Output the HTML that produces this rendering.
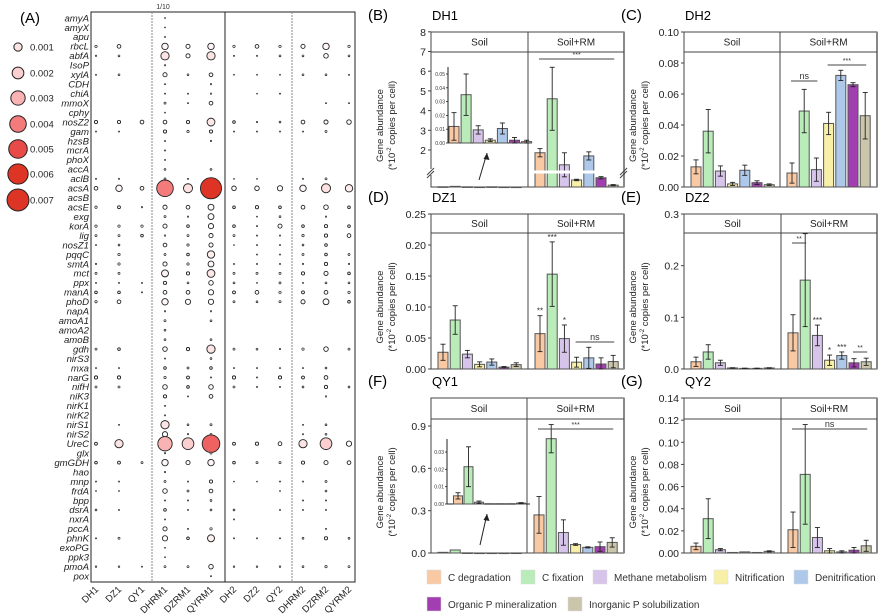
<!DOCTYPE html>
<html><head><meta charset="utf-8">
<style>
html,body{margin:0;padding:0;background:#fff;}
svg{display:block;font-family:"Liberation Sans",Arial,sans-serif;}
</style></head>
<body>
<svg id="fig" width="890" height="616" viewBox="0 0 890 616" xmlns="http://www.w3.org/2000/svg"></svg>
<script>
// ---------- Panel A data ----------
const genes=['amyA','amyX','apu','rbcL','abfA','IsoP','xylA','CDH','chiA','mmoX','cphy','nosZ2','gam','hzsB','mcrA','phoX','accA','aclB','acsA','acsB','acsE','exg','korA','lig','nosZ1','pqqC','smtA','mct','ppx','manA','phoD','napA','amoA1','amoA2','amoB','gdh','nirS3','mxa','narG','nifH','niK3','nirK1','nirK2','nirS1','nirS2','UreC','glx','gmGDH','hao','mnp','frdA','bpp','dsrA','nxrA','pccA','phnK','exoPG','ppk3','pmoA','pox'];
const samples=['DH1','DZ1','QY1','DHRM1','DZRM1','QYRM1','DH2','DZ2','QY2','DHRM2','DZRM2','QYRM2'];
const legendValues=[0.001,0.002,0.003,0.004,0.005,0.006,0.007];
// abundance in units of 1e-3
const abund=[
[0,0,0,.01,0,0,0,0,0,0,0,0],
[0,0,0,.01,0,0,0,0,0,0,0,0],
[0,0,0,.02,0,0,0,0,0,0,0,0],
[.08,.2,0,.6,.25,.6,.08,.2,.08,.25,.6,.08],
[.03,.05,0,1.0,.25,1.0,.02,.02,.05,.05,.3,.05],
[0,0,0,.03,0,0,0,0,0,0,0,0],
[.02,.05,0,.25,.05,.2,.01,.01,.01,.05,.05,.02],
[0,0,0,.02,0,.03,0,0,0,0,0,0],
[0,0,0,.02,.02,.03,0,.01,.02,0,0,0],
[0,0,0,.06,.02,.2,0,0,0,0,.02,.02],
[0,0,0,.01,0,0,0,0,0,0,0,0],
[.15,.15,.2,.2,.15,.9,.1,.03,.05,.2,.25,.3],
[.02,.02,0,.15,.08,.15,.02,.02,.02,.02,.06,0],
[0,0,0,.02,0,.03,0,0,0,0,0,0],
[0,0,0,.02,0,0,0,0,0,0,0,0],
[0,0,0,.02,0,0,0,0,0,0,0,0],
[0,0,0,.05,0,.05,0,0,0,0,0,0],
[.02,.02,0,.05,.02,.03,.01,.01,0,.02,.06,0],
[.2,.6,.2,4,1.2,6.5,.3,.3,.4,.6,1.2,.8],
[0,0,0,0,0,0,0,0,0,0,0,0],
[.08,.12,.03,.25,.2,.5,.1,.15,.1,.2,.3,.1],
[0,0,0,.06,.03,.5,0,.01,.05,0,.03,0],
[.08,.08,.08,.25,.1,.4,.1,.02,.25,.1,.15,.1],
[.06,.06,.1,.03,.06,.25,.06,.02,.02,.08,.15,.2],
[.02,.05,0,.2,.08,.25,.01,.02,.02,.05,.1,0],
[0,.08,0,.06,.1,.8,0,.02,.02,.06,.1,.06],
[.03,.08,0,.25,.08,.5,.02,.02,.02,.03,.15,.03],
[.06,.06,0,.7,.15,.9,.06,.06,.06,.15,.25,.1],
[.02,.02,.02,.15,.05,.3,.05,.01,.06,.02,.05,.05],
[.1,.1,.02,.2,.2,.4,.12,.2,.08,.12,.2,.08],
[.08,.2,0,.6,.4,.4,.06,.05,.06,.25,.5,.1],
[0,0,0,.03,0,.03,0,0,0,0,0,0],
[0,0,0,.06,0,.05,0,0,0,0,0,0],
[0,0,0,.05,0,0,0,0,0,0,0,0],
[0,0,0,.05,0,.05,0,0,0,0,0,0],
[.06,.1,0,.3,.15,1.0,.06,.05,.03,.08,.3,.06],
[0,0,0,.02,0,.05,0,0,0,0,0,0],
[.02,.02,0,.1,.06,.1,.02,.02,.02,.02,.05,0],
[.15,.15,0,.08,.12,.02,.15,.02,.15,.12,.2,0],
[.06,.06,0,.3,.1,.3,.06,.02,.02,.05,.15,.05],
[0,0,0,.15,.02,.2,0,0,0,0,.03,0],
[0,0,0,.02,0,0,0,0,0,0,0,0],
[0,0,0,.02,0,0,0,0,0,0,0,0],
[0,.02,0,1.0,.05,.06,0,0,0,.02,.05,0],
[0,0,0,.4,.03,.05,0,0,0,.02,.05,0],
[.12,1.0,0,3,2,4.5,.12,.15,.2,1.0,2.0,.4],
[0,0,0,.03,0,.06,0,0,0,0,0,0],
[.1,.12,.06,.6,.25,.6,.1,.06,.06,.15,.25,.2],
[0,0,0,.03,0,0,0,0,0,0,0,0],
[.02,.02,0,.06,.02,.15,.01,.01,.02,.02,.06,0],
[.01,.01,0,.3,.06,.2,0,0,.01,0,.05,0],
[0,0,0,.02,.02,.05,0,0,0,.02,.02,0],
[.05,.02,0,.1,.02,.05,.05,0,.02,.02,.02,0],
[0,0,0,.02,0,0,.02,0,0,0,0,0],
[0,0,0,.25,.02,.08,0,0,0,0,.02,0],
[.02,.06,0,.4,.1,.7,.02,.02,.02,.05,.15,.05],
[0,0,0,.01,0,0,0,0,0,0,0,0],
[0,0,0,.005,0,0,0,0,0,0,0,0],
[.04,.04,.02,.06,.06,.3,.04,.04,.04,.05,.08,.06],
[0,0,0,0,0,.02,0,0,0,0,0,0]
];

// ---------- Bar chart data ----------
const categories=['C degradation','C fixation','Methane metabolism','Nitrification','Denitrification','Organic P mineralization','Inorganic P solubilization'];
const catColors=['#f9c9a4','#b9ecb9','#d7c4ea','#f8f0a8','#aec8ea','#a23fb0','#c9c6ab'];
const dh1Soil=[0.012,0.035,0.0095,0.002,0.0105,0.002,0.001];
const dh1SoilErr=[0.01,0.015,0.003,0.001,0.004,0.002,0.001];
const dh1Rm=[1.85,4.6,1.2,0.38,1.68,0.5,0.1];
const dh1RmErr=[0.22,1.6,0.65,0.04,0.22,0.06,0.03];
const dh1Ticks=[2,3,4,5,6,7,8];
const dh1InsetTicks=[0,0.01,0.02,0.03,0.04,0.05];
const dh2Soil=[0.013,0.036,0.0103,0.002,0.0108,0.0028,0.0015];
const dh2SoilErr=[0.0045,0.014,0.0033,0.001,0.0033,0.0012,0.0005];
const dh2Rm=[0.009,0.049,0.0112,0.041,0.072,0.066,0.046];
const dh2RmErr=[0.0065,0.014,0.0075,0.0072,0.0033,0.0013,0.015];
const dh2Ticks=[0,0.02,0.04,0.06,0.08,0.10];
const dz1Soil=[0.027,0.079,0.024,0.0075,0.0112,0.003,0.007];
const dz1SoilErr=[0.013,0.023,0.006,0.004,0.005,0.001,0.003];
const dz1Rm=[0.057,0.153,0.049,0.011,0.018,0.008,0.012];
const dz1RmErr=[0.029,0.052,0.022,0.008,0.017,0.01,0.01];
const dz1Ticks=[0,0.05,0.10,0.15,0.20,0.25];
const dz2Soil=[0.014,0.033,0.012,0.002,0.0012,0.0012,0.002];
const dz2SoilErr=[0.009,0.014,0.005,0.0005,0.0004,0.0004,0.0005];
const dz2Rm=[0.070,0.172,0.065,0.017,0.026,0.012,0.014];
const dz2RmErr=[0.035,0.09,0.02,0.01,0.007,0.008,0.007];
const dz2Ticks=[0,0.1,0.2,0.3];
const qy1Soil=[0.0047,0.0215,0.001,0.0002,0.0002,0.0002,0.0005];
const qy1SoilErr=[0.0018,0.0115,0.0007,0,0,0,0.0003];
const qy1Rm=[0.27,0.81,0.145,0.06,0.04,0.045,0.075];
const qy1RmErr=[0.13,0.1,0.09,0.006,0.004,0.033,0.033];
const qy1Ticks=[0,0.3,0.6,0.9];
const qy1InsetTicks=[0,0.01,0.02,0.03];
const qy2Soil=[0.006,0.031,0.003,0.0005,0.001,0.0005,0.0015];
const qy2SoilErr=[0.003,0.018,0.001,0.0002,0.0003,0.0002,0.0005];
const qy2Rm=[0.021,0.071,0.014,0.002,0.001,0.0025,0.0065];
const qy2RmErr=[0.016,0.045,0.009,0.002,0.001,0.0025,0.005];
const qy2Ticks=[0,0.02,0.04,0.06,0.08,0.10,0.12,0.14];

const NS='http://www.w3.org/2000/svg';
const svg=document.getElementById('fig');
function mk(tag,attrs,parent,text){const e=document.createElementNS(NS,tag);for(const k in attrs)e.setAttribute(k,attrs[k]);if(text!==undefined)e.textContent=text;(parent||svg).appendChild(e);return e;}

// ---------- Panel A ----------
const gA=mk('g',{});


const t=mk('text',{x:20,y:23,'font-size':15},gA,'(A)');

const boxL=91,boxR=355,boxT=12,boxB=582;
const rowY=i=>18+i*9.46;
const colX=j=>96+j*23;
function rad(v){return 131*Math.sqrt(v*0.001);}
function dotFill(v){
  if(v<0.5)return '#ffffff';
  const stops=[[0.5,[255,250,250]],[1,[253,228,228]],[2,[251,207,208]],[3,[249,179,179]],[4,[243,123,123]],[5,[232,74,72]],[6,[222,52,37]],[7,[222,52,37]]];
  for(let i=0;i<stops.length-1;i++){const a=stops[i],b=stops[i+1];if(v<=b[0]){const f=(v-a[0])/(b[0]-a[0]);const c=a[1].map((x,k)=>Math.round(x+(b[1][k]-x)*f));return 'rgb('+c.join(',')+')';}}
  return 'rgb(222,52,37)';
}
const fr=mk('rect',{x:boxL,y:boxT,width:boxR-boxL,height:boxB-boxT,fill:'none',stroke:'#222','stroke-width':1},gA);

mk('line',{x1:152,y1:boxT,x2:152,y2:boxB,stroke:'#888','stroke-width':1,'stroke-dasharray':'2,1'},gA);
mk('line',{x1:225,y1:boxT,x2:225,y2:boxB,stroke:'#222','stroke-width':1},gA);
mk('line',{x1:292,y1:boxT,x2:292,y2:boxB,stroke:'#888','stroke-width':1,'stroke-dasharray':'2,1'},gA);
mk('text',{x:163,y:9,'font-size':7,'text-anchor':'middle',fill:'#333'},gA,'1/10');
genes.forEach((g,i)=>{
  const e=mk('text',{x:89,y:rowY(i)+3.3,'font-size':9.6,'font-style':'italic','text-anchor':'end',fill:'#222'},gA,g);
  
  abund[i].forEach((v,j)=>{
    if(!v)return;
    const r=Math.max(rad(v),0.5);
    const c=mk('circle',{cx:colX(j),cy:rowY(i),r:r,fill:dotFill(v),stroke:'#222','stroke-width':r<1.2?0.7:0.9},gA);
    
    
  });
});
samples.forEach((s,j)=>{
  const x=colX(j)+3,y=590;
  const e=mk('text',{x:x,y:y,'font-size':9.5,'text-anchor':'end',transform:'rotate(-45 '+x+' '+y+')',fill:'#222'},gA,s);
  
});
legendValues.forEach((v,i)=>{
  const y=[47,73,98,124,149,174,200][i];
  const r=rad(v*1000);
  const c=mk('circle',{cx:18,cy:y,r:r,fill:dotFill(v*1000),stroke:'#222','stroke-width':1},gA);
  
  const tt=mk('text',{x:30,y:y+3.5,'font-size':9.5,fill:'#222'},gA,v.toFixed(3));
  
});

// ---------- Bar panels ----------
function linScale(bottom,vmax,ptop){return v=>bottom-(v/vmax)*(bottom-ptop);}
const panels=[
 {id:'b',label:'(B)',title:'DH1',L:431,R:624,M:528,T:32,S:52,B:187,soil:dh1Soil,soilErr:dh1SoilErr,rm:dh1Rm,rmErr:dh1RmErr,ticks:dh1Ticks,dec:0,
  y:v=>v<=2?187-v*18.5:150-(v-2)*19.7,broken:true,
  inset:{L:448,R:528,T:67,B:143,vmax:0.05,ptop:74,ticks:dh1InsetTicks,x0:454,dx:12.1,w:10,arrow:[479,180,487,153]},
  sig:[{a:0,b:6,y:59,t:'***'}],stars:[]},
 {id:'c',label:'(C)',title:'DH2',L:684,R:877,M:780,T:32,S:52,B:187,soil:dh2Soil,soilErr:dh2SoilErr,rm:dh2Rm,rmErr:dh2RmErr,ticks:dh2Ticks,dec:2,
  y:linScale(187,0.10,32),sig:[{a:0,b:2,y:81,t:'ns'},{a:3,b:6,y:65,t:'***'}],stars:[]},
 {id:'d',label:'(D)',title:'DZ1',L:431,R:624,M:528,T:214,S:233,B:369,soil:dz1Soil,soilErr:dz1SoilErr,rm:dz1Rm,rmErr:dz1RmErr,ticks:dz1Ticks,dec:2,
  y:linScale(369,0.25,214),sig:[{a:3,b:6,y:342,t:'ns'}],stars:[[0,'**'],[1,'***'],[2,'*']]},
 {id:'e',label:'(E)',title:'DZ2',L:684,R:877,M:781,T:214,S:233,B:369,soil:dz2Soil,soilErr:dz2SoilErr,rm:dz2Rm,rmErr:dz2RmErr,ticks:dz2Ticks,dec:1,
  y:linScale(369,0.3,214),sig:[{a:0,b:1,y:243,t:'**'},{a:5,b:6,y:352,t:'**'}],stars:[[2,'***'],[3,'*'],[4,'***']]},
 {id:'f',label:'(F)',title:'QY1',L:431,R:624,M:527,T:398,S:419,B:553,soil:qy1Soil,soilErr:qy1SoilErr,rm:qy1Rm,rmErr:qy1RmErr,ticks:qy1Ticks,dec:1,
  y:linScale(553,0.9,426),
  inset:{L:447,R:530,T:439,B:504,vmax:0.03,ptop:452,ticks:qy1InsetTicks,x0:458,dx:10.5,w:9,arrow:[480,545,487,514]},
  sig:[{a:0,b:6,y:429,t:'***'}],stars:[]},
 {id:'g',label:'(G)',title:'QY2',L:684,R:877,M:781,T:398,S:419,B:553,soil:qy2Soil,soilErr:qy2SoilErr,rm:qy2Rm,rmErr:qy2RmErr,ticks:qy2Ticks,dec:2,
  y:linScale(553,0.14,398),sig:[{a:0,b:6,y:429,t:'ns'}],stars:[]}
];
function barX(fl,i){return fl+12+i*12.2;}
function drawBar(g,cx,w,y0,y1,col,name){
  const r=mk('rect',{x:cx-w/2,y:Math.min(y0,y1),width:w,height:Math.max(Math.abs(y0-y1),0.6),fill:col,stroke:'#555','stroke-width':1},g);
  
}
function drawErr(g,cx,ya,yb){
  mk('line',{x1:cx,y1:ya,x2:cx,y2:yb,stroke:'#222','stroke-width':0.9},g);
  mk('line',{x1:cx-2.5,y1:ya,x2:cx+2.5,y2:ya,stroke:'#222','stroke-width':0.9},g);
  mk('line',{x1:cx-2.5,y1:yb,x2:cx+2.5,y2:yb,stroke:'#222','stroke-width':0.9},g);
}
panels.forEach(p=>{
  const g=mk('g',{});
  
  
  const lb=mk('text',{x:p.L-63,y:p.T-12,'font-size':15},g,p.label);
  
  const tl=mk('text',{x:p.L+1,y:p.T-12,'font-size':13},g,p.title);
  
  // frame
  mk('rect',{x:p.L,y:p.T,width:p.R-p.L,height:p.B-p.T,fill:'none',stroke:'#444','stroke-width':1},g);
  mk('line',{x1:p.R,y1:p.T,x2:p.R,y2:p.B,stroke:'#888','stroke-width':2},g);
  mk('line',{x1:p.L,y1:p.S,x2:p.R,y2:p.S,stroke:'#444','stroke-width':1},g);
  mk('line',{x1:p.M,y1:p.T,x2:p.M,y2:p.B,stroke:'#444','stroke-width':1},g);
  const s1=mk('text',{x:(p.L+p.M)/2,y:(p.T+p.S)/2+3.5,'font-size':10,'text-anchor':'middle',fill:'#222'},g,'Soil');
  
  const s2=mk('text',{x:(p.M+p.R)/2,y:(p.T+p.S)/2+3.5,'font-size':10,'text-anchor':'middle',fill:'#222'},g,'Soil+RM');
  
  // y ticks
  p.ticks.forEach(v=>{
    const y=p.y(v);
    mk('line',{x1:p.L-3,y1:y,x2:p.L,y2:y,stroke:'#444','stroke-width':1},g);
    const tt=mk('text',{x:p.L-5,y:y+4,'font-size':10.5,'text-anchor':'end',fill:'#222'},g,v.toFixed(p.dec));
    
  });
  // y title
  const cx=p.L-48,cy=(p.S+p.B)/2+6;
  const yt=mk('text',{transform:'translate('+cx+','+cy+') rotate(-90)','font-size':9.5,'text-anchor':'middle',fill:'#222'},g);
  
  mk('tspan',{x:0,y:0},yt,'Gene abundance');
  const ts=mk('tspan',{x:0,y:12},yt,'(*10');
  mk('tspan',{'font-size':6,dy:-4},yt,'-2');
  mk('tspan',{dy:4},yt,' copies per cell)');
  // bars
  p.soil.forEach((v,i)=>{
    const x=barX(p.L,i);
    drawBar(g,x,10,p.y(0),p.y(v),catColors[i],'bar-soil-'+categories[i].toLowerCase().replace(/ /g,'-'));
    if(!p.inset&&p.soilErr[i]>0.0003)drawErr(g,x,p.y(v+p.soilErr[i]),p.y(Math.max(v-p.soilErr[i],0)));
  });
  p.rm.forEach((v,i)=>{
    const x=barX(p.M,i);
    drawBar(g,x,10,p.y(0),p.y(v),catColors[i],'bar-soil-rm-'+categories[i].toLowerCase().replace(/ /g,'-'));
    drawErr(g,x,p.y(v+p.rmErr[i]),p.y(Math.max(v-p.rmErr[i],0)));
  });
  p.stars.forEach(s=>{
    const i=s[0],v=p.rm[i];
    mk('text',{x:barX(p.M,i),y:p.y(v+p.rmErr[i])-2,'font-size':8,'text-anchor':'middle',fill:'#333'},g,s[1]);
  });
  p.sig.forEach(s=>{
    const x1=barX(p.M,s.a)-1,x2=barX(p.M,s.b)+1;
    const ln=mk('line',{x1:x1,y1:s.y,x2:x2,y2:s.y,stroke:'#444','stroke-width':1},g);
    
    mk('text',{x:(x1+x2)/2,y:s.y-2,'font-size':s.t==='ns'?9:7,'text-anchor':'middle',fill:'#333'},g,s.t);
  });
  if(p.broken){
    mk('rect',{x:p.M+2,y:170.5,width:p.R-p.M-5,height:3,fill:'#fff'},g);
    mk('rect',{x:p.L-3,y:169,width:6,height:6,fill:'#fff'},g);
    mk('line',{x1:p.L-4,y1:175,x2:p.L+3,y2:168,stroke:'#444'},g);
    mk('line',{x1:p.L-4,y1:178,x2:p.L+3,y2:171,stroke:'#444'},g);
    mk('line',{x1:p.R-4,y1:175,x2:p.R+3,y2:168,stroke:'#444'},g);
    mk('line',{x1:p.R-4,y1:178,x2:p.R+3,y2:171,stroke:'#444'},g);
  }
  if(p.inset){
    const q=p.inset;
    const ig=mk('g',{},g);
    
    const iy=v=>q.B-(v/q.vmax)*(q.B-q.ptop);
    mk('line',{x1:q.L,y1:q.T,x2:q.L,y2:q.B,stroke:'#222','stroke-width':1},ig);
    mk('line',{x1:q.L,y1:q.B,x2:q.R,y2:q.B,stroke:'#222','stroke-width':1},ig);
    q.ticks.forEach(v=>{
      const y=iy(v);
      mk('line',{x1:q.L-2,y1:y,x2:q.L,y2:y,stroke:'#222','stroke-width':0.8},ig);
      mk('text',{x:q.L-3,y:y+2,'font-size':5,'text-anchor':'end',fill:'#333'},ig,v.toFixed(2));
    });
    p.soil.forEach((v,i)=>{
      const x=q.x0+i*q.dx;
      drawBar(ig,x,q.w,q.B,iy(v),catColors[i],'inset-bar-'+categories[i].toLowerCase().replace(/ /g,'-'));
      if(p.soilErr[i]>0)drawErr(ig,x,iy(v+p.soilErr[i]),iy(Math.max(v-p.soilErr[i],0)));
    });
    const a=q.arrow;
    mk('line',{x1:a[0],y1:a[1],x2:a[2],y2:a[3],stroke:'#222','stroke-width':1},ig);
    mk('path',{d:'M'+a[2]+','+a[3]+' l-3.5,6 l6,1 z',fill:'#222'},ig);
  }
});

// ---------- Legend ----------
const legendPos=[[428,577],[522,577],[594,577],[715,577],[795,577],[428,604],[569,604]];
categories.forEach((c,i)=>{
  const [x,y]=legendPos[i];
  const g=mk('g',{});
  
  
  mk('rect',{x:x-1,y:y-7,width:14,height:14,fill:catColors[i],stroke:'#ddd','stroke-width':0.5},g);
  mk('text',{x:x+20,y:y+4,'font-size':10,fill:'#333'},g,c);
});
</script>
</body></html>
